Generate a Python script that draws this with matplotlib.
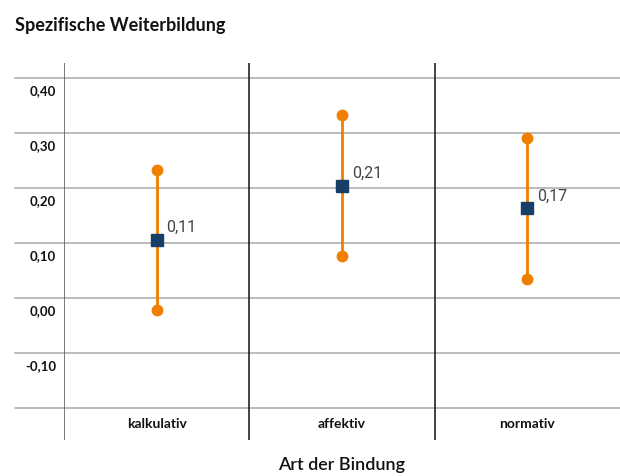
import matplotlib
matplotlib.use("Agg")
import matplotlib.pyplot as plt
import matplotlib.transforms as mtransforms

# Data
categories = ["kalkulativ", "affektiv", "normativ"]
means = [0.106, 0.204, 0.163]
upper = [0.233, 0.333, 0.291]
lower = [-0.023, 0.077, 0.035]
value_labels = ["0,11", "0,21", "0,17"]
yticks = [0.40, 0.30, 0.20, 0.10, 0.00, -0.10, -0.20]
ytick_labels = ["0,40", "0,30", "0,20", "0,10", "0,00", "-0,10", ""]
title = "Spezifische Weiterbildung"
xlabel = "Art der Bindung"

ORANGE = "#F07F00"
NAVY = "#173F66"
GRID = "#AAAAAA"

fig = plt.figure(figsize=(6.2, 4.76), dpi=100)
W, H = 620, 476
ax = fig.add_axes([64 / W, 1 - 440 / H, (620 - 64) / W, (440 - 63) / H])
ax.set_xlim(-0.5, 2.5)
ax.set_ylim(-0.259, 0.428)
for s in ax.spines.values():
    s.set_visible(False)
ax.set_xticks([])
ax.set_yticks([])

trans = mtransforms.blended_transform_factory(ax.transAxes, ax.transData)
x_left = (15 - 64) / (620 - 64)
for v, lab in zip(yticks, ytick_labels):
    ax.plot([x_left, 1], [v, v], transform=trans, color=GRID, lw=1.1,
            clip_on=False, zorder=1)
    if lab:
        ax.annotate(lab, xy=(-8 / 556, v), xycoords=trans,
                    xytext=(0, -9.5), textcoords="offset points",
                    ha="right", va="center", fontsize=9.5,
                    fontweight="bold", family="Lato", color="#111111")

# vertical separators
for i, xv in enumerate([-0.5, 0.5, 1.5]):
    ax.axvline(xv, color="#555555" if i == 0 else "#111111", lw=1.1, zorder=1)

# error bars and points
xs = list(range(len(categories)))
for x, m, lo, hi, lab in zip(xs, means, lower, upper, value_labels):
    ax.plot([x, x], [lo, hi], color=ORANGE, lw=2.0, zorder=2,
            solid_capstyle="butt")
    ax.plot([x, x], [lo, hi], "o", color=ORANGE, ms=7.5, zorder=3)
    ax.plot([x], [m], "s", color=NAVY, ms=8.5, zorder=4)
    ax.annotate(lab, xy=(x, m), xytext=(7, 9), textcoords="offset points",
                ha="left", va="center", fontsize=11.5, family="Roboto",
                fontweight="normal", color="#444444")

# category labels
for x, c in zip(xs, categories):
    ax.annotate(c, xy=(x, -0.20), xytext=(0, -12), textcoords="offset points",
                ha="center", va="center", fontsize=10, family="Lato",
                fontweight="bold", color="#111111")

fig.text(342 / W, 1 - 465 / H, xlabel, ha="center", va="center",
         fontsize=13, family="Lato", fontweight="semibold", color="#111111")
fig.text(15 / W, 1 - 25 / H, title, ha="left", va="center",
         fontsize=13, family="Lato", fontweight="bold", color="#111111")

fig.savefig("out.png", dpi=100)
